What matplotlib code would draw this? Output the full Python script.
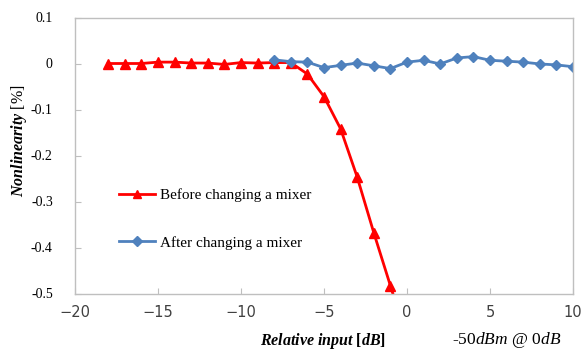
import numpy as np
import matplotlib
matplotlib.use("Agg")
import matplotlib.pyplot as plt
from matplotlib.ticker import FuncFormatter

# data
before_x = [-18, -17, -16, -15, -14, -13, -12, -11, -10, -9, -8, -7, -6, -5, -4, -3, -2, -1, 0]
before_y = [0.0, 0.0, 0.0, 0.003, 0.003, 0.001, 0.001, -0.002, 0.002, 0.001, 0.002, 0.002,
            -0.023, -0.072, -0.142, -0.247, -0.368, -0.483, -0.6]

after_x = [-8, -7, -6, -5, -4, -3, -2, -1, 0, 1, 2, 3, 4, 5, 6, 7, 8, 9, 10]
after_y = [0.008, 0.004, 0.003, -0.009, -0.004, 0.001, -0.005, -0.011, 0.003, 0.007, -0.001,
           0.012, 0.015, 0.007, 0.005, 0.003, -0.001, -0.003, -0.007]

xticks = [-20, -15, -10, -5, 0, 5, 10]
yticks = [0.1, 0, -0.1, -0.2, -0.3, -0.4, -0.5]

plt.rcParams["mathtext.fontset"] = "custom"
plt.rcParams["mathtext.rm"] = "Liberation Serif"
plt.rcParams["mathtext.it"] = "Liberation Serif:italic"
plt.rcParams["mathtext.bf"] = "Liberation Serif:italic:bold"

fig = plt.figure(figsize=(5.81, 3.51), dpi=100)
ax = fig.add_axes([75 / 581, 1 - 293.5 / 351, 498 / 581, 276 / 351])

ax.plot(before_x, before_y, color="#FF0000", lw=2, marker="^", ms=7,
        label="Before changing a mixer")
ax.plot(after_x, after_y, color="#4F81BD", lw=2, marker="D", ms=5.5,
        label="After changing a mixer")

ax.set_xlim(-20, 10)
ax.set_ylim(-0.5, 0.1)
ax.set_xticks(xticks)
ax.set_yticks(yticks)
ax.yaxis.set_major_formatter(FuncFormatter(lambda v, p: f"{v:g}" if abs(v) > 1e-9 else "0"))

for s in ax.spines.values():
    s.set_color("#BFBFBF")
    s.set_linewidth(1)
ax.tick_params(direction="in", length=4, color="#BFBFBF")
ax.tick_params(axis="x", labelsize=10.5, labelcolor="#404040", pad=8)
ax.tick_params(axis="y", labelsize=10, pad=16)
for t in ax.get_yticklabels():
    t.set_fontfamily("Liberation Serif")

# legend sits in the lower left part of the plot
ax.legend(loc="upper left", bbox_to_anchor=(0.06, 0.43), frameon=False,
          prop={"family": "Liberation Serif", "size": 11},
          labelspacing=2.2, handlelength=2.4, handletextpad=0.3, markerscale=0.85)

fig.text(19 / 581, 1 - 141 / 351, r"$\mathbf{Nonlinearity}$ [%]", rotation=90,
         ha="center", va="center", fontsize=11.5, family="Liberation Serif")
fig.text(323 / 581, 1 - 341 / 351, r"$\mathbf{Relative\ input}$ [$\mathbf{dB}$]",
         ha="center", va="center", fontsize=11.5, family="Liberation Serif",
         fontweight="bold")
fig.text(507 / 581, 1 - 340 / 351, r"-50$\mathit{dBm}$ @ 0$\mathit{dB}$",
         ha="center", va="center", fontsize=12.5, family="Liberation Serif")

fig.savefig("out.png", dpi=100)
